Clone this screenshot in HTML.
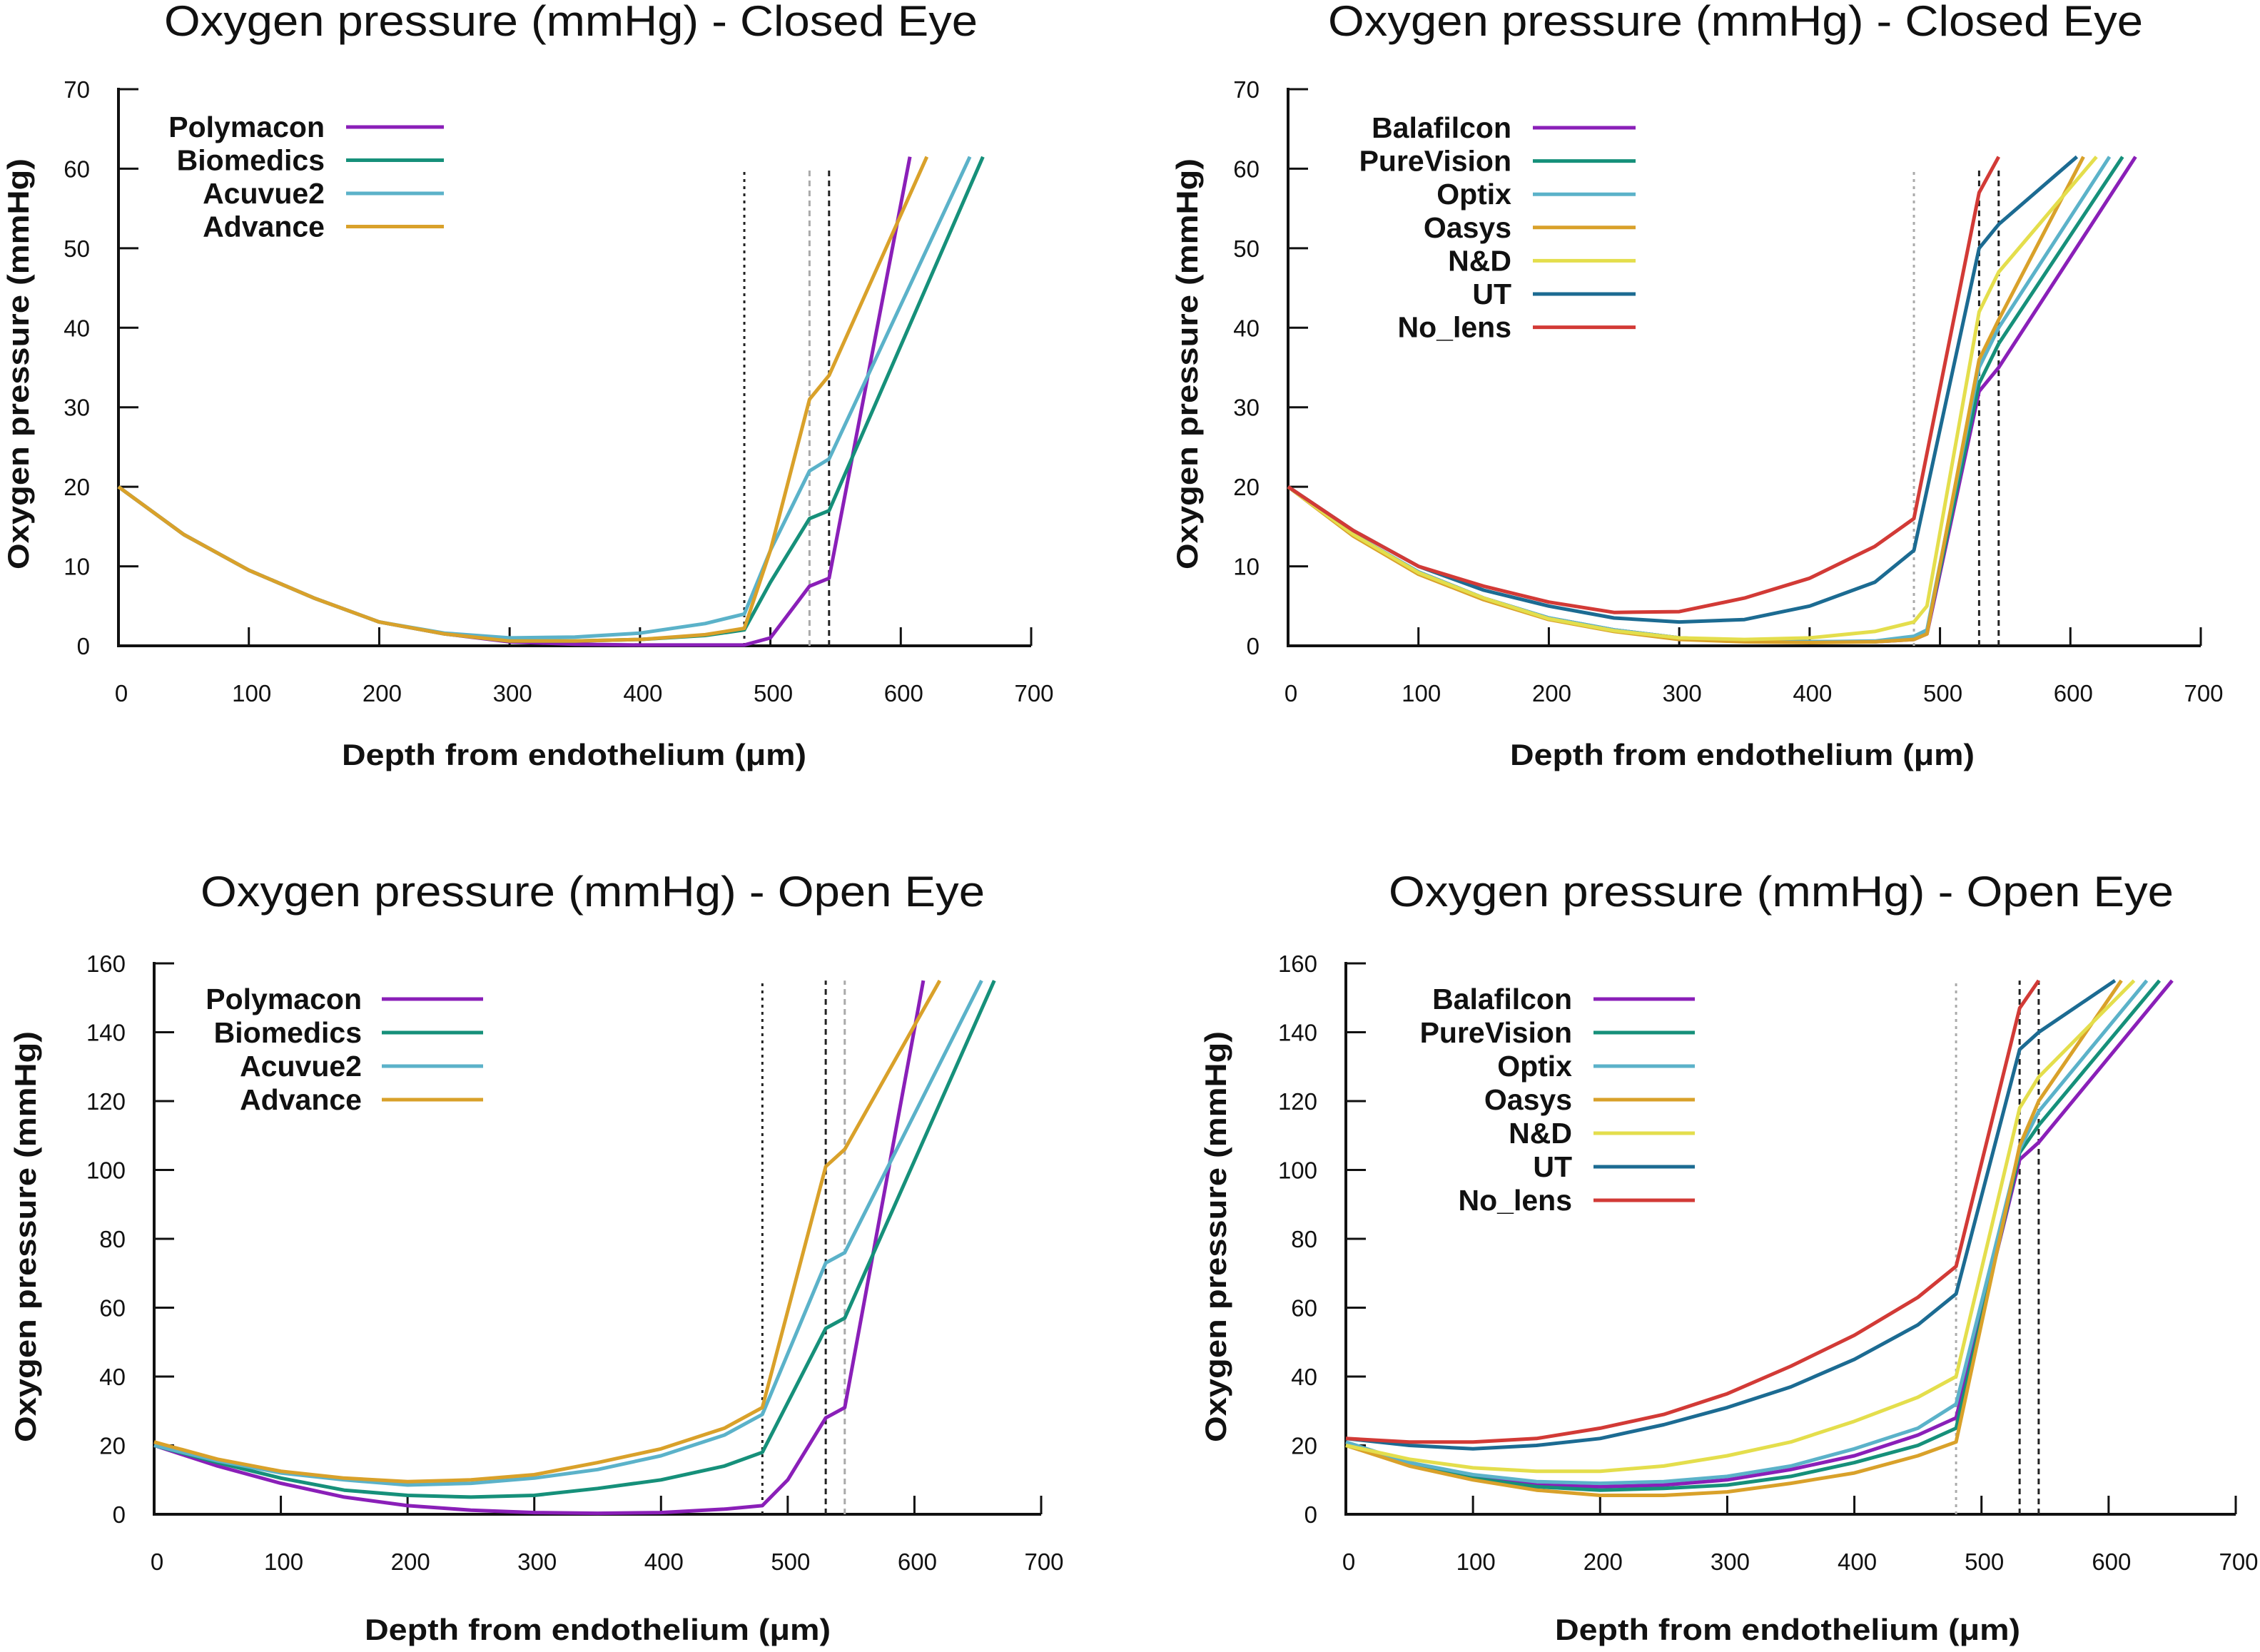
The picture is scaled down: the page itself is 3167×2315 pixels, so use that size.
<!DOCTYPE html>
<html><head><meta charset="utf-8"><style>
html,body{margin:0;padding:0;background:#fff}
svg{display:block}
text{font-family:"Liberation Sans",sans-serif;fill:#111}
</style></head><body>
<svg id="fig" width="3167" height="2315" viewBox="0 0 3167 2315" xmlns="http://www.w3.org/2000/svg"></svg>
<script>
// ---- data ----
const xTicks = [0,100,200,300,400,500,600,700];
const yTicksClosed = [0,10,20,30,40,50,60,70];
const yTicksOpen = [0,20,40,60,80,100,120,140,160];

// Closed eye, left panel
const tlX = {
  Polymacon:[0,50,100,150,200,250,300,350,400,450,480,500,530,545,607],
  Biomedics:[0,50,100,150,200,250,300,350,400,450,480,500,530,545,663],
  Acuvue2:[0,50,100,150,200,250,300,350,400,450,480,500,530,545,653],
  Advance:[0,50,100,150,200,250,300,350,400,450,480,500,530,545,620]
};
const tlY = {
  Polymacon:[20,14,9.5,6,3,1.5,0.5,0.2,0.1,0.1,0.1,1,7.5,8.5,61.5],
  Biomedics:[20,14,9.5,6,3,1.5,0.6,0.6,0.8,1.3,2,8,16,17,61.5],
  Acuvue2:[20,14,9.5,6,3,1.6,1,1.1,1.6,2.8,4,12,22,23.5,61.5],
  Advance:[20,14,9.5,6,3,1.5,0.6,0.6,0.8,1.4,2.2,12,31,34,620/10.08]
};
tlY.Advance[14]=61.5;
// Closed eye, right panel
const trX = {
  Balafilcon:[0,50,100,150,200,250,300,350,400,450,480,490,530,545,650],
  PureVision:[0,50,100,150,200,250,300,350,400,450,480,490,530,545,640],
  Optix:[0,50,100,150,200,250,300,350,400,450,480,490,530,545,630],
  Oasys:[0,50,100,150,200,250,300,350,400,450,480,490,530,545,610],
  'N&D':[0,50,100,150,200,250,300,350,400,450,480,490,530,545,620],
  UT:[0,50,100,150,200,250,300,350,400,450,480,530,545,605],
  No_lens:[0,50,100,150,200,250,300,350,400,450,480,530,545]
};
const trY = {
  Balafilcon:[20,14,9.3,6,3.5,2,1,0.6,0.5,0.5,0.8,1.5,32,35,61.5],
  PureVision:[20,14,9.3,6,3.5,2,1,0.6,0.5,0.5,1,1.8,33,38,61.5],
  Optix:[20,14,9.3,6,3.5,2,1,0.6,0.5,0.6,1.2,2,35,40,61.5],
  Oasys:[20,13.8,9,5.8,3.3,1.8,0.8,0.5,0.4,0.5,0.8,1.5,36,41,61.5],
  'N&D':[20,14,9.2,6,3.4,1.9,1,0.8,1,1.8,3,5,42,47,61.5],
  UT:[20,14.5,10,7,5,3.5,3,3.3,5,8,12,50,53,61.5],
  No_lens:[20,14.5,10,7.5,5.5,4.2,4.3,6,8.5,12.5,16,57,61.5]
};
// Open eye, left panel
const blX = {
  Polymacon:[0,50,100,150,200,250,300,350,400,450,480,500,530,545,607],
  Biomedics:[0,50,100,150,200,250,300,350,400,450,480,530,545,663],
  Acuvue2:[0,50,100,150,200,250,300,350,400,450,480,530,545,653],
  Advance:[0,50,100,150,200,250,300,350,400,450,480,530,545,620]
};
const blY = {
  Polymacon:[20,14,9,5,2.5,1.2,0.5,0.3,0.5,1.5,2.5,10,28,31,155],
  Biomedics:[20,15,10.5,7,5.5,5,5.5,7.5,10,14,18,54,57,155],
  Acuvue2:[20,15.5,12,10,8.5,9,10.5,13,17,23,29,73,76,155],
  Advance:[21,16,12.5,10.5,9.5,10,11.5,15,19,25,31,101,106,155]
};
// Open eye, right panel
const brX = {
  Balafilcon:[0,50,100,150,200,250,300,350,400,450,480,530,545,650],
  PureVision:[0,50,100,150,200,250,300,350,400,450,480,530,545,640],
  Optix:[0,50,100,150,200,250,300,350,400,450,480,530,545,630],
  Oasys:[0,50,100,150,200,250,300,350,400,450,480,530,545,610],
  'N&D':[0,50,100,150,200,250,300,350,400,450,480,530,545,620],
  UT:[0,50,100,150,200,250,300,350,400,450,480,530,545,605],
  No_lens:[0,50,100,150,200,250,300,350,400,450,480,530,545]
};
const brY = {
  Balafilcon:[20,15,11,8.5,8,8.5,10,13,17,23,28,103,108,155],
  PureVision:[20,14.5,10.5,8,7,7.5,8.5,11,15,20,25,105,113,155],
  Optix:[21,15,11.5,9.5,9,9.5,11,14,19,25,32,106,117,155],
  Oasys:[20,14,10,7,5.5,5.5,6.5,9,12,17,21,107,120,155],
  'N&D':[20,16,13.5,12.5,12.5,14,17,21,27,34,40,118,127,155],
  UT:[22,20,19,20,22,26,31,37,45,55,64,135,140,155],
  No_lens:[22,21,21,22,25,29,35,43,52,63,72,147,155]
};
const colors = {Polymacon:'#8a1fb8',Balafilcon:'#8a1fb8',Biomedics:'#16907a',PureVision:'#16907a',
  Acuvue2:'#5bb2c9',Optix:'#5bb2c9',Advance:'#d9a12a',Oasys:'#d9a12a','N&D':'#e4de4c',UT:'#1c6b92',No_lens:'#d23a36'};

const NS='http://www.w3.org/2000/svg';
const svg=document.getElementById('fig');
function mk(tag,attrs,parent,txt){const e=document.createElementNS(NS,tag);for(const k in attrs)e.setAttribute(k,attrs[k]);if(txt!==undefined)e.textContent=txt;(parent||svg).appendChild(e);return e;}

const panels=[
 {id:'closed-left',x0:166,x1:1445,y0:905,y1:125,ymax:70,yt:yTicksClosed,X:tlX,Y:tlY,title:'Oxygen pressure (mmHg) - Closed Eye',tx:[230,1140],ty:50,
  vl:[[480,'#222','4,6'],[530,'#aaa','8,6'],[545,'#222','8,6']],vtop:60,leg:{r:455,l0:485,l1:622,y:178,dy:46.5},xt:[479,651],xty:1072,ytx:40,yty:[222,798]},
 {id:'closed-right',x0:1805,x1:3084,y0:905,y1:125,ymax:70,yt:yTicksClosed,X:trX,Y:trY,title:'Oxygen pressure (mmHg) - Closed Eye',tx:[1861,1142],ty:50,
  vl:[[480,'#aaa','4,6'],[530,'#222','8,6'],[545,'#222','8,6']],vtop:60,leg:{r:2118,l0:2148,l1:2292,y:179,dy:46.6},xt:[2116,651],xty:1072,ytx:1678,yty:[222,798]},
 {id:'open-left',x0:216,x1:1459,y0:2122,y1:1350,ymax:160,yt:yTicksOpen,X:blX,Y:blY,title:'Oxygen pressure (mmHg) - Open Eye',tx:[281,1099],ty:1270,
  vl:[[480,'#222','4,6'],[530,'#222','8,6'],[545,'#aaa','8,6']],vtop:155,leg:{r:507,l0:535,l1:677,y:1400,dy:47},xt:[511,653],xty:2298,ytx:50,yty:[1445,2021]},
 {id:'open-right',x0:1886,x1:3133,y0:2122,y1:1350,ymax:160,yt:yTicksOpen,X:brX,Y:brY,title:'Oxygen pressure (mmHg) - Open Eye',tx:[1946,1100],ty:1270,
  vl:[[480,'#aaa','4,6'],[530,'#222','8,6'],[545,'#222','8,6']],vtop:155,leg:{r:2203,l0:2233,l1:2375,y:1400,dy:47},xt:[2179,652],xty:2298,ytx:1718,yty:[1445,2021]}
];

panels.forEach(p=>{
  const g=mk('g',{});
  
  
  const sx=v=>p.x0+(p.x1-p.x0)*v/700;
  const sy=v=>p.y0-(p.y0-p.y1)*v/p.ymax;
  const t=mk('text',{x:p.tx[0],y:p.ty,'font-size':60,textLength:p.tx[1],lengthAdjust:'spacingAndGlyphs'},g,p.title);
  
  
  // axes
  const ax=mk('path',{d:`M${p.x0},${p.y1-2}V${p.y0}H${p.x1}`,stroke:'#111','stroke-width':4,fill:'none'},g);
  
  
  xTicks.forEach(v=>{
    mk('line',{x1:sx(v),x2:sx(v),y1:p.y0,y2:p.y0-26,stroke:'#111','stroke-width':3},g);
    const tl=mk('text',{x:sx(v)+4,y:p.y0+78,'font-size':33,'text-anchor':'middle'},g,String(v));
    
    
  });
  p.yt.forEach(v=>{
    mk('line',{x1:p.x0,x2:p.x0+28,y1:sy(v),y2:sy(v),stroke:'#111','stroke-width':3},g);
    const tl=mk('text',{x:p.x0-40,y:sy(v)+12,'font-size':33,'text-anchor':'end'},g,String(v));
    
    
  });
  const xt=mk('text',{x:p.xt[0],y:p.xty,'font-size':42,'font-weight':'bold',textLength:p.xt[1],lengthAdjust:'spacingAndGlyphs'},g,'Depth from endothelium (\u03bcm)');
  
  
  const cy=(p.yty[0]+p.yty[1])/2;
  const yt=mk('text',{x:0,y:0,'font-size':42,'font-weight':'bold','text-anchor':'middle',transform:`translate(${p.ytx},${cy}) rotate(-90)`,textLength:p.yty[1]-p.yty[0],lengthAdjust:'spacingAndGlyphs'},g,'Oxygen pressure (mmHg)');
  
  
  // vertical layer lines
  p.vl.forEach(([v,c,d])=>{
    const l=mk('line',{x1:sx(v),x2:sx(v),y1:p.y0,y2:sy(p.vtop),stroke:c,'stroke-width':3,'stroke-dasharray':d},g);
    
    
  });
  // series
  const names=Object.keys(p.X);
  names.forEach((n,i)=>{
    const xs=p.X[n],ys=p.Y[n];
    const pts=xs.map((x,k)=>sx(x).toFixed(1)+','+sy(ys[k]).toFixed(1)).join(' ');
    const pl=mk('polyline',{points:pts,fill:'none',stroke:colors[n],'stroke-width':5,'stroke-linejoin':'round'},g);
    
    
    const ly=p.leg.y+i*p.leg.dy;
    const lt=mk('text',{x:p.leg.r,y:ly+14,'font-size':41,'font-weight':'bold','text-anchor':'end'},g,n);
    
    
    const ll=mk('line',{x1:p.leg.l0,x2:p.leg.l1,y1:ly,y2:ly,stroke:colors[n],'stroke-width':5},g);
    
    
  });
});
</script>
</body></html>
